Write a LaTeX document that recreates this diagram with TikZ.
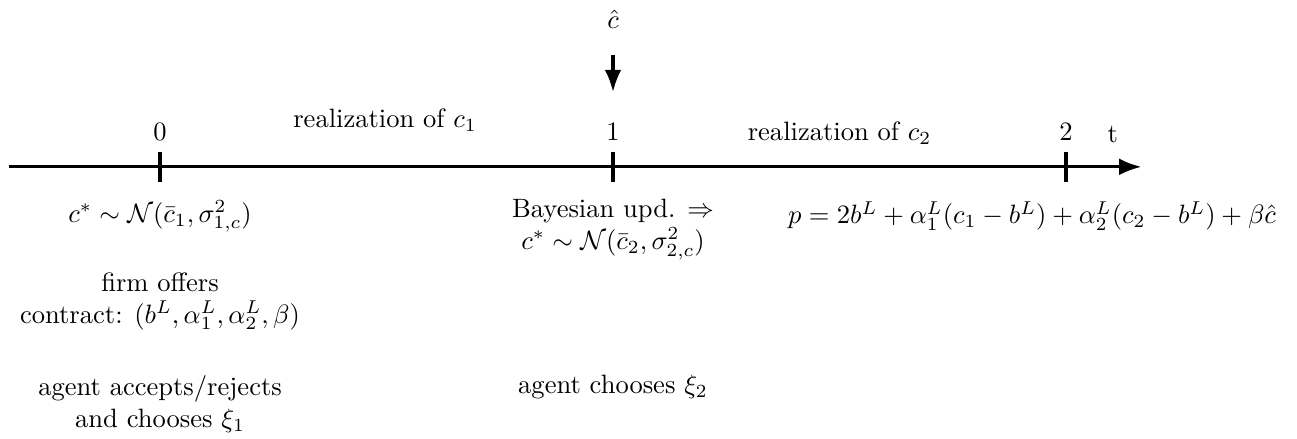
\documentclass[tikz,border=0pt]{standalone}
\usepackage{amsmath,amssymb}
\usetikzlibrary{positioning,arrows.meta,calc}
\tikzset{
  >=Latex,
  tickmark/.style={line width=1.2pt},
  every node/.style={font=\normalsize},
}

\begin{document}
\begin{tikzpicture}[
  axis/.style={->,line width=1.2pt},
  event/.style={align=center,inner sep=1pt},
  node distance=0.3cm
]
\useasboundingbox (-2.12,-3.60) rectangle (15.06,2.21);

\coordinate (start) at (-2,0);
\coordinate (stop) at (13,0);
\coordinate (t0) at (0,0);
\coordinate (t1) at (6,0);
\coordinate (t2) at (12,0);

\draw[axis] (start) -- (stop);
\foreach \t in {t0,t1,t2}
  \draw[tickmark] ($(\t)+(0,0.2)$) -- ($(\t)+(0,-0.2)$);

\node[above=0.22cm of t0] (l0) {0};
\node[above=0.22cm of t1] (l1) {1};
\node[above=0.22cm of t2] (l2) {2};
\node at (12.62,0.43) (lt) {t};

\node at (2.98,0.62) (real1) {realization of $c_1$};
\node at (9.0,0.45) (real2) {realization of $c_2$};

% signal at date 1
\node at (6,1.95) (chat) {$\hat{c}$};
\coordinate (chattip) at (6,0.99);
\draw[->,line width=1.2pt] (chat.south) ++(0,-0.22) -- (chattip);

% below the time line
\node[event] at (0,-0.66) (prior) {$c^*\sim\mathcal{N}(\bar{c}_1,\sigma^2_{1,c})$};
\node[event] at (6,-0.83) (update) {Bayesian upd. $\Rightarrow$\\ $c^*\sim\mathcal{N}(\bar{c}_2,\sigma^2_{2,c})$};
\node[event] at (11.55,-0.65) (pay) {$p=2b^L+\alpha^L_1(c_1-b^L)+\alpha^L_2(c_2-b^L)+\beta\hat{c}$};

\node[event] at (0,-1.78) (offer) {firm offers\\ contract: $(b^L,\alpha^L_1,\alpha^L_2,\beta)$};
\node[event,anchor=north] at (0,-2.72) (accept) {agent accepts/rejects\\ and chooses $\xi_1$};
\node[event,anchor=north] at (6,-2.72) (choose2) {agent chooses $\xi_2$};

\end{tikzpicture}
\end{document}
